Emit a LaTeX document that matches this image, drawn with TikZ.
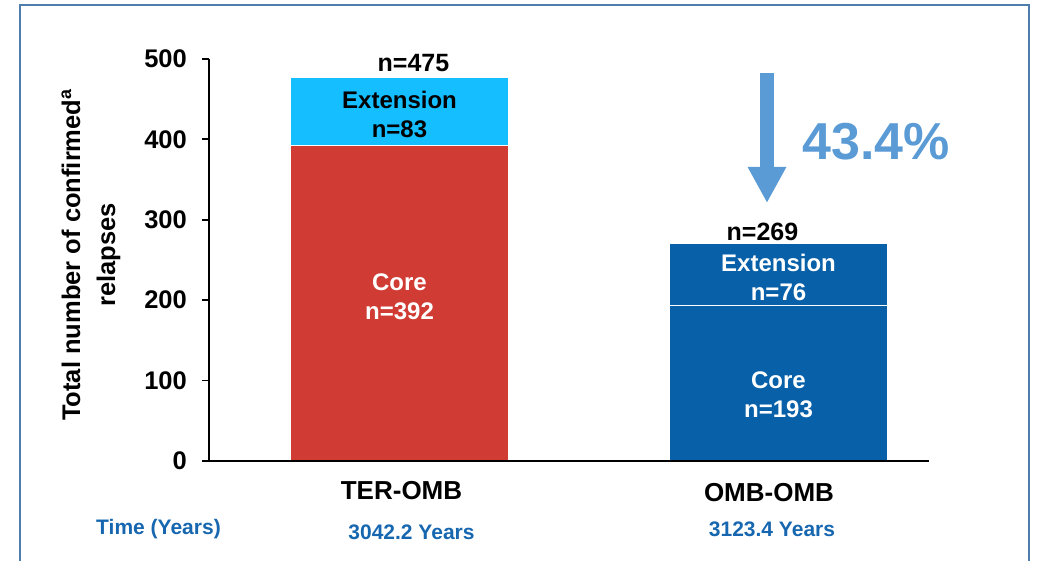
\documentclass[tikz,border=0pt]{standalone}
\usepackage{fontspec}
\setmainfont{Liberation Sans}
\usepackage{xcolor}
\usepackage{tikz}
\usetikzlibrary{arrows.meta, positioning, calc}

\definecolor{terred}{HTML}{D03B34}
\definecolor{extcyan}{HTML}{14BEFF}
\definecolor{ombblue}{HTML}{0760A8}
\definecolor{arrowblue}{HTML}{5B9BD5}
\definecolor{timeblue}{HTML}{1767B0}
\definecolor{frameblue}{HTML}{4F7DAE}

\begin{document}
\begin{tikzpicture}[
    x=1pt, y=1pt,
    barseg/.style={rectangle, minimum width=217pt, inner sep=0pt, anchor=south},
    seglbl/.style={align=center, font=\bfseries\fontsize{24}{29}\selectfont},
    toplbl/.style={font=\bfseries\fontsize{25}{28}\selectfont},
    ticklbl/.style={anchor=east, inner sep=3pt, font=\bfseries\fontsize{25.5}{28}\selectfont},
    catlbl/.style={font=\bfseries\fontsize{26}{28}\selectfont},
    yrlbl/.style={text=timeblue, font=\bfseries\fontsize{21}{24}\selectfont}
]
\useasboundingbox (-209,-100) rectangle (829,461);

% Frame
\draw[frameblue, line width=2.5pt] (-189,-115) rectangle (820,456);

% TER-OMB bar - core, then extension on top
\node[barseg, minimum height={392*0.804pt}, fill=terred] (tercore) at (190.5,0) {};
\node[barseg, minimum height={83*0.804pt}, fill=extcyan] (terext) at (tercore.north) {};
\draw[white, line width=1.5pt] (tercore.north west) -- (tercore.north east);
\node[seglbl, text=white, yshift=6pt] (tercorelbl) at (tercore.center) {Core\\n=392};
\node[seglbl, yshift=-3pt] (terextlbl) at (terext.center) {Extension\\n=83};
\node[toplbl, above=3pt of terext, xshift=14pt] (tertot) {n=475};

% OMB-OMB bar
\node[barseg, minimum height={193*0.804pt}, fill=ombblue] (ombcore) at (569.5,0) {};
\node[barseg, minimum height={76*0.804pt}, fill=ombblue] (ombext) at (ombcore.north) {};
\draw[white, line width=1.5pt] (ombcore.north west) -- (ombcore.north east);
\node[seglbl, text=white, yshift=-12pt] (ombcorelbl) at (ombcore.center) {Core\\n=193};
\node[seglbl, text=white, yshift=-3pt] (ombextlbl) at (ombext.center) {Extension\\n=76};
\node[toplbl, above=0pt of ombext, xshift=-16pt] (ombtot) {n=269};

% Axes
\coordinate (orig) at (0,0);
\coordinate (ytop) at (0,{500*0.804});
\coordinate (xend) at (720,0);
\draw[line width=1.8pt] (ytop) -- (orig) -- (xend);
\foreach \v in {0,100,...,500} {
  \draw[line width=1.8pt] (-7,{\v*0.804}) -- (0,{\v*0.804});
  \node[ticklbl] at (-19,{\v*0.804}) {\v};
}
\node[rotate=90, align=center, font=\bfseries\fontsize{25.5}{35}\selectfont] (ylbl) at (-118,206)
  {Total number of confirmed\textsuperscript{a}\\relapses};

% Category and time labels
\node[catlbl] (tername) at (192.5,-30) {TER-OMB};
\node[catlbl] (ombname) at (560,-32) {OMB-OMB};
\node[yrlbl] (timelbl) at (-50.5,-68.5) {Time (Years)};
\node[yrlbl] (teryrs) at (202.5,-71) {3042.2 Years};
\node[yrlbl] (ombyrs) at (563,-68.5) {3123.4 Years};

% Reduction arrow
\coordinate (arrtop) at (558,388);
\coordinate (arrtip) at (558,258);
\draw[arrowblue, line width=14pt, -{Triangle[width=36pt, length=36pt]}] (arrtop) -- (arrtip);
\node[text=arrowblue, font=\bfseries\fontsize{52}{56}\selectfont] (pct) at (667,319) {43.4\%};

\end{tikzpicture}
\end{document}
